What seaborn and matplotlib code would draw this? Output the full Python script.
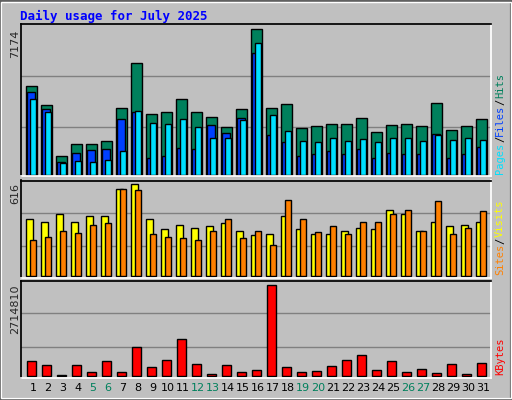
import numpy as np
import pandas as pd
import seaborn as sns
import matplotlib.pyplot as plt
from matplotlib.patches import Rectangle

days = list(range(1, 32))
weekends = [5, 6, 12, 13, 19, 20, 26, 27]

hits = [4400, 3470, 960, 1550, 1550, 1700, 3310, 5510, 3010, 3110, 3750, 3110, 2870,
        2380, 3260, 7174, 3310, 3500, 2320, 2410, 2510, 2510, 2800, 2120, 2460, 2510,
        2410, 3550, 2230, 2410, 2760]
files = [4090, 3260, 670, 1110, 1250, 1300, 2770, 3110, 860, 960, 1350, 1300, 2480,
         2090, 2820, 6000, 2000, 1650, 960, 1060, 1210, 1060, 1300, 860, 1110, 1060,
         1060, 2040, 860, 1060, 1400]
pages = [3750, 3110, 620, 720, 670, 770, 1210, 3160, 2580, 2530, 2770, 2380, 1840,
         1840, 2720, 6490, 2960, 2180, 1700, 1650, 1840, 1700, 1790, 1650, 1840, 1840,
         1700, 1990, 1750, 1840, 1750]
visits = [380, 360, 415, 360, 400, 400, 580, 616, 385, 315, 345, 325, 335, 355, 305,
          275, 285, 400, 315, 280, 285, 305, 325, 315, 445, 415, 305, 365, 335, 345, 360]
sites = [245, 265, 305, 290, 340, 355, 580, 573, 285, 265, 255, 240, 300, 380, 255,
         300, 210, 507, 380, 295, 335, 280, 365, 360, 415, 445, 300, 500, 280, 320, 433]
kbytes = [455000, 336000, 40000, 336000, 129000, 455000, 129000, 871000, 277000,
          485000, 1109000, 366000, 69000, 336000, 129000, 188000, 2714810, 277000,
          129000, 158000, 307000, 485000, 633000, 188000, 455000, 129000, 218000,
          99000, 366000, 69000, 396000]

BG = "#C0C0C0"
sns.set_theme(style="white")
plt.rcParams["font.family"] = ["DejaVu Sans Mono"]

W, H = 512, 400
XMIN, XMAX = 0.18, 31.51
fig = plt.figure(figsize=(W / 100, H / 100), dpi=100, facecolor=BG)

# bevel
fig.patches.append(Rectangle((0, 0), 1, 1, transform=fig.transFigure, fill=False,
                             edgecolor="#606060", lw=3))
fig.patches.append(Rectangle((0.002, 0.004), 0.996, 0.992, transform=fig.transFigure,
                             fill=False, edgecolor="white", lw=1))

fig.text(20 / W, 1 - 16 / H, "Daily usage for July 2025", color="#0000FF",
         fontsize=9, fontweight="bold", va="center", ha="left")


def make_ax(top, bottom):
    ax = fig.add_axes([20.7 / W, 1 - bottom / H, 470 / W, (bottom - top) / H])
    ax.set_facecolor(BG)
    for s in ["left", "top"]:
        ax.spines[s].set_color("black")
    for s in ["right", "bottom"]:
        ax.spines[s].set_color("white")
    return ax


def finish(ax, ylo, yhi):
    ax.set_ylim(ylo, yhi)
    ax.set_xlim(XMIN, XMAX)
    ax.set_xlabel("")
    ax.set_ylabel("")
    ax.set_xticks([])
    ax.set_yticks([])


def bars(ax, vals, offset, width, color):
    df = pd.DataFrame({"x": np.array(days) + offset, "y": vals})
    sns.barplot(data=df, x="x", y="y", native_scale=True, width=width,
                color=color, saturation=1, edgecolor="black", linewidth=1, ax=ax)


def grid(ax, ymax, fracs):
    for f in fracs:
        ax.axhline(ymax * f, color="#808080", lw=1, zorder=0)


ax1 = make_ax(24.5, 176.5)
grid(ax1, 7174, [0.333, 0.677])
bars(ax1, hits, -0.12, 0.74, "#00805C")
bars(ax1, files, -0.15, 0.52, "#0040FF")
bars(ax1, pages, 0.0, 0.46, "#00E0FF")
finish(ax1, -60, 7410)

ax2 = make_ax(180.5, 278)
grid(ax2, 616, [0.325, 0.686])
bars(ax2, visits, -0.23, 0.46, "#FFFF00")
bars(ax2, sites, 0.0, 0.46, "#FF8000")
finish(ax2, -10, 639)

ax3 = make_ax(280.5, 378)
grid(ax3, 2714810, [0.324, 0.689])
bars(ax3, kbytes, -0.09, 0.62, "#FF0000")
finish(ax3, -50000, 2714810 * 95.7 / 91.4)

for d in days:
    xf = (20.7 + (d - XMIN) / (XMAX - XMIN) * 470) / W
    fig.text(xf, 1 - 388 / H, str(d), ha="center", va="center", fontsize=8,
             family="DejaVu Sans", color="#00805C" if d in weekends else "black")

for ytop, txt in [(30, "7174"), (183, "616"), (284, "2714810")]:
    fig.text(15 / W, 1 - ytop / H, txt, rotation=90, ha="center", va="top",
             fontsize=8, family="DejaVu Sans")


def side_label(ybottom, parts):
    y = ybottom
    for txt, col in parts:
        fig.text(500 / W, 1 - y / H, txt, rotation=90, ha="center", va="bottom",
                 fontsize=7.5, color=col)
        y -= len(txt) * 6.3


side_label(174, [("Pages", "#00E0FF"), ("/", "black"), ("Files", "#0040FF"),
                 ("/", "black"), ("Hits", "#00805C")])
side_label(275, [("Sites", "#FF8000"), ("/", "black"), ("Visits", "#FFFF00")])
side_label(375, [("KBytes", "#FF0000")])

fig.savefig("out.png", dpi=100, facecolor=BG)
